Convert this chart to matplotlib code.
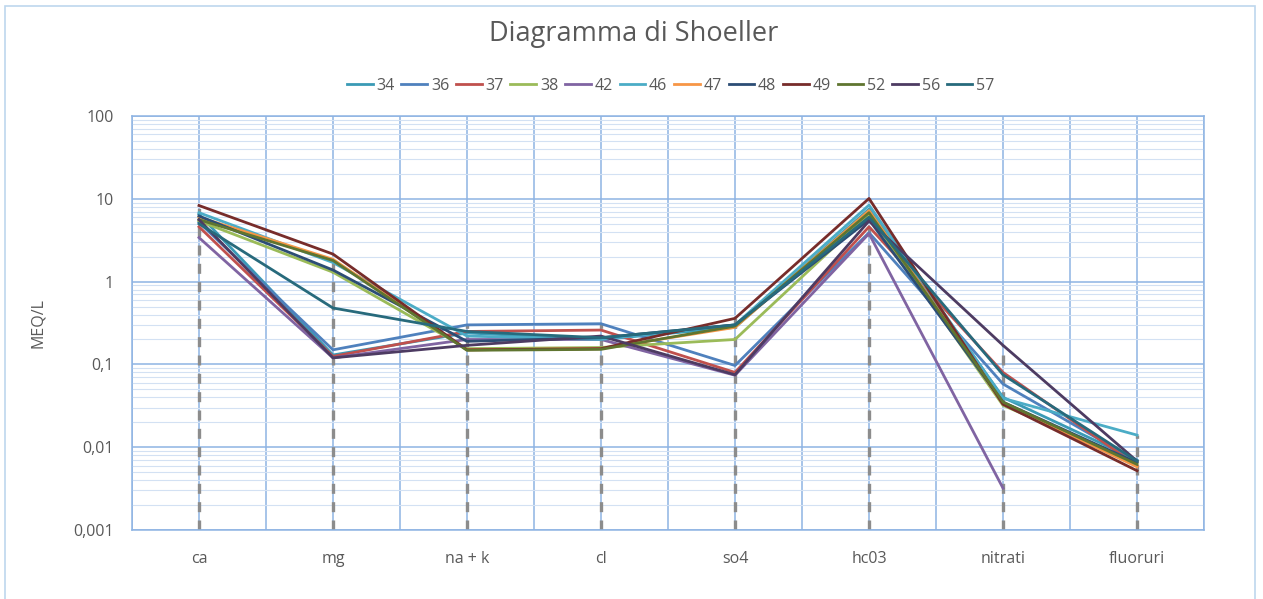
import numpy as np
import matplotlib
matplotlib.use('Agg')
import matplotlib.pyplot as plt
from matplotlib.patches import Rectangle

# categories and samples
categories = ['ca', 'mg', 'na + k', 'cl', 'so4', 'hc03', 'nitrati', 'fluoruri']
samples = ['34', '36', '37', '38', '42', '46', '47', '48', '49', '52', '56', '57']

# MEQ/L values (nan = no point)
v34 = [6.5, 0.13, 0.24, 0.20, 0.28, 7.5, 0.040, 0.0070]
v36 = [5.2, 0.15, 0.30, 0.31, 0.097, 3.9, 0.058, 0.0068]
v37 = [4.6, 0.125, 0.25, 0.26, 0.080, 4.6, 0.080, 0.0060]
v38 = [5.4, 1.30, 0.155, 0.16, 0.20, 6.5, 0.032, 0.0065]
v42 = [3.4, 0.12, 0.20, 0.20, 0.074, 3.8, 0.0032, np.nan]
v46 = [6.8, 1.70, 0.22, 0.20, 0.30, 8.4, 0.039, 0.014]
v47 = [6.0, 1.86, 0.15, 0.155, 0.28, 7.2, 0.034, 0.0058]
v48 = [6.2, 1.38, 0.19, 0.21, 0.30, 5.6, 0.035, 0.0065]
v49 = [8.3, 2.15, 0.15, 0.155, 0.36, 10.1, 0.033, 0.0052]
v52 = [5.6, 1.80, 0.148, 0.152, 0.29, 6.8, 0.035, 0.0062]
v56 = [5.6, 0.12, 0.17, 0.22, 0.075, 5.4, 0.17, 0.0068]
v57 = [5.0, 0.48, 0.25, 0.21, 0.30, 6.0, 0.075, 0.0068]
values = [v34, v36, v37, v38, v42, v46, v47, v48, v49, v52, v56, v57]

colors = ['#3A9AB5', '#4F81BD', '#C0504D', '#9BBB59', '#8064A2', '#4BACC6',
          '#F79646', '#2C4D75', '#772C2A', '#5F7530', '#4D3B62', '#276A7C']

yticks = [0.001, 0.01, 0.1, 1, 10, 100]
ytick_labels = ['0,001', '0,01', '0,1', '1', '10', '100']

plt.rcParams['font.family'] = ['Open Sans', 'DejaVu Sans']

fig = plt.figure(figsize=(12.63, 5.99), dpi=100)
ax = fig.add_axes([0.1045, 0.1152, 0.8488, 0.6911])

# outer chart frame
fig.patches.append(Rectangle((0.004, -0.01), 0.99, 1.0, transform=fig.transFigure,
                             fill=False, edgecolor='#BDD7EE', lw=1.2))

x = np.arange(len(categories))
data = np.array(values)

# drop lines
tops = np.nanmax(data, axis=0)
ax.vlines(x, 0.001, tops, colors='#8C8C8C', linestyles=(0, (3, 2.5)), lw=2.4, zorder=2)

for vals, col, name in zip(values, colors, samples):
    ax.plot(x, vals, color=col, lw=2, label=name, zorder=3)

ax.set_yscale('log')
ax.set_ylim(0.001, 100)
ax.set_xlim(-0.5, len(categories) - 0.5)
ax.set_yticks(yticks)
ax.set_yticklabels(ytick_labels)
ax.set_xticks(x)
ax.set_xticklabels(categories)
ax.tick_params(length=0, labelsize=11.5, labelcolor='#595959')
ax.tick_params(axis='x', pad=15)
ax.tick_params(axis='y', pad=13)
ax.yaxis.set_minor_formatter(matplotlib.ticker.NullFormatter())
ax.tick_params(which='minor', length=0)

# grid
ax.set_xticks(np.arange(-0.5, len(categories), 0.5), minor=True)
ax.grid(True, which='major', axis='y', color='#8EB4E3', lw=1.1, zorder=0)
ax.grid(True, which='minor', axis='y', color='#D3E1F3', lw=0.8, zorder=0)
ax.grid(True, which='minor', axis='x', color='#8EB4E3', lw=1.1, zorder=0)
ax.grid(True, which='major', axis='x', color='#8EB4E3', lw=1.1, zorder=0)
ax.set_axisbelow(True)
for s in ax.spines.values():
    s.set_color('#8EB4E3')
    s.set_linewidth(1.1)

ax.set_ylabel('MEQ/L', fontsize=11.5, color='#595959', labelpad=20)

fig.text(0.502, 0.943, 'Diagramma di Shoeller', ha='center', va='center',
         fontsize=19.5, color='#595959')
fig.legend(loc='center', bbox_to_anchor=(0.531, 0.857), ncol=12, frameon=False,
           handlelength=1.6, handletextpad=0.25, columnspacing=0.42,
           fontsize=11.5, labelcolor='#595959')

fig.savefig('out.png', dpi=100)
